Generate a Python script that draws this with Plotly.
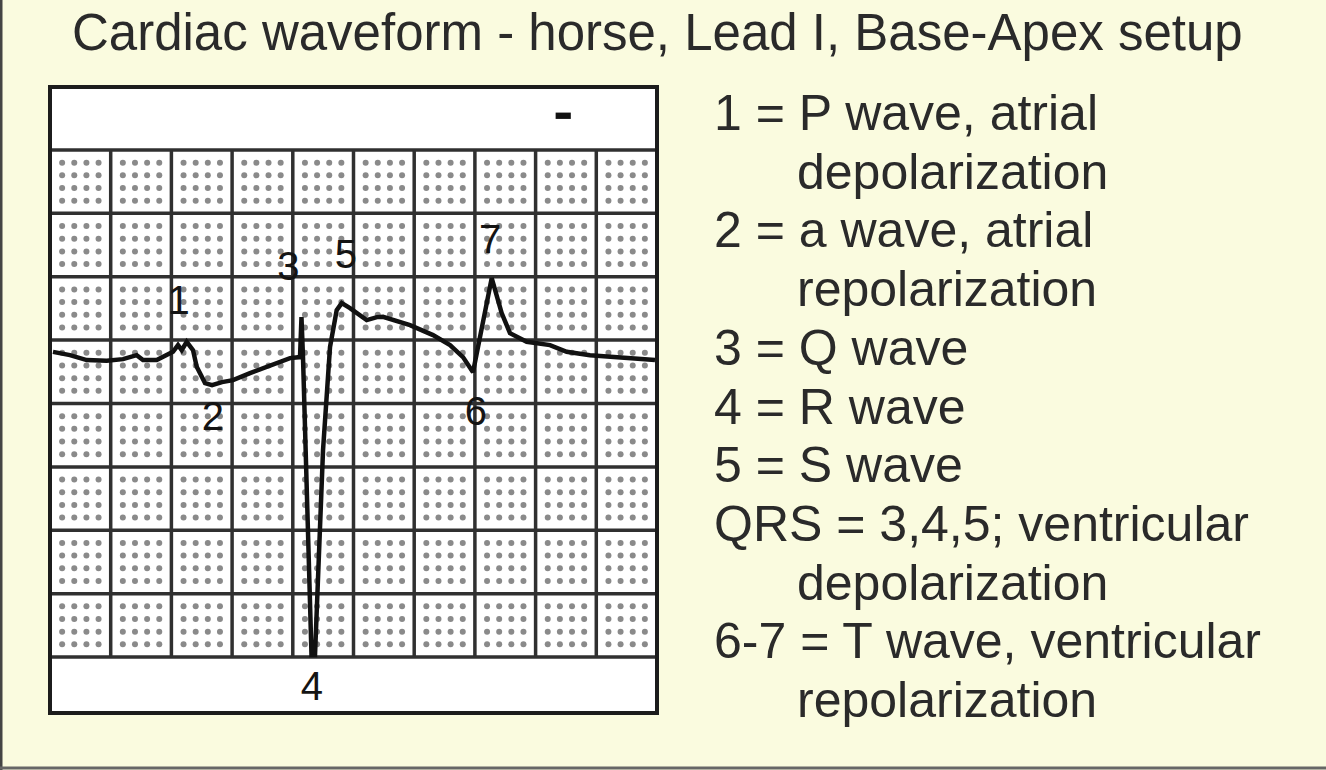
import numpy as np
import plotly.graph_objects as go

# ---------------- data (grid units: 1 = one large ECG box) ----------------
time_boxes = [0.049, 0.329, 0.605, 0.934, 1.203, 1.428, 1.532, 1.758, 2.026, 2.109,
              2.170, 2.252, 2.356, 2.417, 2.554, 2.669, 2.834, 3.015, 3.295, 3.575,
              3.954, 4.119, 4.143, 4.168, 4.308, 4.366, 4.498, 4.613, 4.723, 4.806,
              4.942, 5.217, 5.387, 5.486, 5.684, 5.931, 6.310, 6.590, 6.804, 6.969,
              7.277, 7.348, 7.441, 7.578, 7.853, 8.237, 8.512, 8.896, 9.275, 9.967]
amplitude_boxes = [4.815, 4.763, 4.685, 4.674, 4.700, 4.763, 4.685, 4.685, 4.815, 4.921,
                   4.842, 4.973, 4.842, 4.579, 4.322, 4.290, 4.338, 4.369, 4.479, 4.574,
                   4.716, 4.732, 5.363, 4.732, 0.032, 0.032, 3.265, 4.890, 5.473, 5.584,
                   5.505, 5.315, 5.363, 5.368, 5.315, 5.237, 5.079, 4.921, 4.732, 4.495,
                   5.978, 5.710, 5.426, 5.110, 4.973, 4.921, 4.815, 4.763, 4.737, 4.685]

wave_labels = ["1", "2", "3", "5", "6", "7", "4"]
label_x = [2.117, 2.685, 3.929, 4.876, 7.018, 7.249, 4.316]
label_y = [5.568, 3.738, 6.104, 6.293, 3.817, 6.530, -0.52]

title_text = "Cardiac waveform - horse, Lead I, Base-Apex setup"
legend_lines = [
    ("1 = P wave, atrial", 0),
    ("depolarization", 1),
    ("2 = a wave, atrial", 0),
    ("repolarization", 1),
    ("3 = Q wave", 0),
    ("4 = R wave", 0),
    ("5 = S wave", 0),
    ("QRS = 3,4,5; ventricular", 0),
    ("depolarization", 1),
    ("6-7 = T wave, ventricular", 0),
    ("repolarization", 1),
]

N_COLS, N_ROWS = 10, 8

# ---------------- figure ----------------
W, H = 1326, 770
BG = "#FAFBDF"
FONT = "Liberation Sans, Arial"

fig = go.Figure()

# dotted fine grid (interior small-box intersections)
gx, gy = [], []
for i in range(N_COLS):
    for j in range(N_ROWS):
        for k in range(1, 5):
            for m in range(1, 5):
                gx.append(i + k / 5)
                gy.append(j + m / 5)
fig.add_trace(go.Scatter(x=gx, y=gy, mode="markers",
                         marker=dict(size=6, color="#8a8a8a", line=dict(width=0)),
                         hoverinfo="skip", showlegend=False))

# waveform
fig.add_trace(go.Scatter(x=time_boxes, y=amplitude_boxes, mode="lines",
                         line=dict(color="#111111", width=4.5),
                         hoverinfo="skip", showlegend=False))

# wave labels
fig.add_trace(go.Scatter(x=label_x, y=label_y, mode="text", text=wave_labels,
                         textfont=dict(family=FONT, size=40, color="#141414"),
                         hoverinfo="skip", showlegend=False))

shapes = []
# heavy grid lines
for i in range(1, N_COLS):
    shapes.append(dict(type="line", xref="x", yref="y", x0=i, x1=i, y0=0, y1=N_ROWS,
                       line=dict(color="#303030", width=3.5), layer="below"))
for j in range(0, N_ROWS + 1):
    shapes.append(dict(type="line", xref="x", yref="y", x0=0, x1=N_COLS, y0=j, y1=j,
                       line=dict(color="#303030", width=3.5), layer="below"))
# small dash in top strip
shapes.append(dict(type="rect", xref="x", yref="y", x0=8.33, x1=8.58, y0=8.49, y1=8.59,
                   fillcolor="#111", line=dict(width=0)))

# outer box border (paper coords)
x0p, x1p = 50 / W, 657 / W
y0p, y1p = 1 - 713 / H, 1 - 87 / H
shapes.append(dict(type="rect", xref="paper", yref="paper", x0=x0p, x1=x1p, y0=y0p, y1=y1p,
                   line=dict(color="#1c1c1c", width=4)))
# image frame edges
shapes.append(dict(type="line", xref="paper", yref="paper", x0=1 / W, x1=1 / W, y0=0, y1=1,
                   line=dict(color="#444", width=3)))
shapes.append(dict(type="line", xref="paper", yref="paper", x0=0, x1=1, y0=2 / H, y1=2 / H,
                   line=dict(color="#666", width=3)))

annotations = [dict(text=title_text, xref="paper", yref="paper", x=657 / W, y=1 - 33 / H,
                    xanchor="center", yanchor="middle", showarrow=False,
                    font=dict(family=FONT, size=51, color="#2a2a2a"))]

line_y0, line_dy = 113, 58.7
for n, (txt, indent) in enumerate(legend_lines):
    px = 795 if indent else 712
    py = line_y0 + n * line_dy
    annotations.append(dict(text=txt, xref="paper", yref="paper", x=px / W, y=1 - py / H,
                            xanchor="left", yanchor="middle", showarrow=False,
                            font=dict(family=FONT, size=50, color="#2a2a2a")))

ppy = 63.4  # px per box vertically
fig.update_layout(
    width=W, height=H,
    margin=dict(l=0, r=0, t=0, b=0),
    paper_bgcolor=BG, plot_bgcolor="white",
    shapes=shapes, annotations=annotations,
    hovermode=False,
    xaxis=dict(domain=[x0p, x1p], range=[0, N_COLS], visible=False, fixedrange=True),
    yaxis=dict(domain=[y0p, y1p], range=[-(713 - 657) / ppy, N_ROWS + (150 - 87) / ppy],
               visible=False, fixedrange=True),
)

fig.write_html("out.html", config={"displayModeBar": False},
               post_script="document.body.style.margin='0';document.body.style.padding='0';")
